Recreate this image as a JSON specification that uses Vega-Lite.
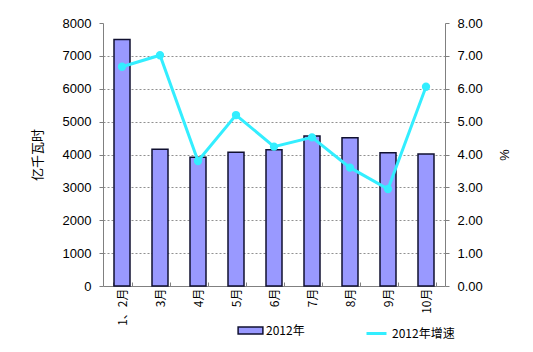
{
  "$schema": "https://vega.github.io/schema/vega-lite/v6.json",
  "width": 342,
  "height": 263,
  "autosize": "none",
  "padding": {"left": 103, "top": 23, "right": 88, "bottom": 66},
  "background": "white",
  "config": {
    "view": {"stroke": null},
    "axis": {"labelFont": "Liberation Sans", "labelColor": "black", "titleColor": "black", "domainColor": "#808080", "tickColor": "#808080"}
  },
  "data": {
    "values": [
      {"month": "1、2月", "value": 7500, "growth": 6.67},
      {"month": "3月", "value": 4160, "growth": 7.02},
      {"month": "4月", "value": 3915, "growth": 3.8},
      {"month": "5月", "value": 4070, "growth": 5.2},
      {"month": "6月", "value": 4145, "growth": 4.24},
      {"month": "7月", "value": 4560, "growth": 4.52},
      {"month": "8月", "value": 4510, "growth": 3.6},
      {"month": "9月", "value": 4050, "growth": 2.95},
      {"month": "10月", "value": 4015, "growth": 6.06}
    ]
  },
  "layer": [
    {
      "mark": {"type": "bar", "size": 16, "stroke": "#101030", "strokeWidth": 1.5},
      "encoding": {
        "x": {
          "field": "month", "type": "nominal", "sort": null,
          "scale": {"paddingInner": 0.5, "paddingOuter": 0.25},
          "axis": {
            "title": null, "labelAngle": -90, "labelFont": "Noto Sans CJK SC", "labelFontSize": 12,
            "labelPadding": 6, "tickBand": "extent", "tickSize": -4, "domainColor": "#808080"
          }
        },
        "y": {
          "field": "value", "type": "quantitative",
          "scale": {"domain": [0, 8000]},
          "axis": {
            "title": "亿千瓦时", "titleFont": "Noto Sans CJK SC", "titleFontWeight": "normal", "titleFontSize": 13,
            "titlePadding": 18, "labelFontSize": 13, "format": "d", "labelOverlap": false,
            "values": [0,1000,2000,3000,4000,5000,6000,7000,8000],
            "labelPadding": 8, "tickSize": 4,
            "grid": true, "gridColor": "#909090", "gridDash": [2, 2],
            "gridOpacity": {"condition": {"test": "datum.value >= 8000 || datum.value <= 0", "value": 0}, "value": 1}
          }
        },
        "fill": {
          "datum": "2012年", "type": "nominal",
          "scale": {"range": ["#9999FF"]},
          "legend": {
            "title": null, "orient": "none", "legendX": 139, "legendY": 299,
            "symbolType": "M-1.6,-0.45H1.6V0.45H-1.6Z", "symbolSize": 240,
            "symbolStrokeColor": "#101030", "symbolStrokeWidth": 1.5,
            "labelFont": "Noto Sans CJK SC", "labelFontSize": 12, "labelOffset": 7
          }
        }
      }
    },
    {
      "mark": {"type": "line", "strokeWidth": 3, "point": {"filled": true, "size": 40, "color": "#33EEFF"}},
      "encoding": {
        "x": {"field": "month", "type": "nominal", "sort": null},
        "y": {
          "field": "growth", "type": "quantitative",
          "scale": {"domain": [0, 8]},
          "axis": {
            "title": "%", "orient": "right", "titleFontWeight": "normal", "titleFontSize": 13, "titlePadding": 14,
            "format": ".2f", "values": [0,1,2,3,4,5,6,7,8], "labelFontSize": 13, "labelPadding": 8, "labelOverlap": false,
            "tickSize": 4, "grid": false
          }
        },
        "stroke": {
          "datum": "2012年增速", "type": "nominal",
          "scale": {"range": ["#33EEFF"]},
          "legend": {
            "title": null, "orient": "none", "legendX": 262, "legendY": 299,
            "symbolType": "stroke", "symbolStrokeWidth": 3, "symbolSize": 400,
            "labelFont": "Noto Sans CJK SC", "labelFontSize": 12, "labelOffset": 4
          }
        }
      }
    }
  ],
  "resolve": {"scale": {"y": "independent"}}
}
